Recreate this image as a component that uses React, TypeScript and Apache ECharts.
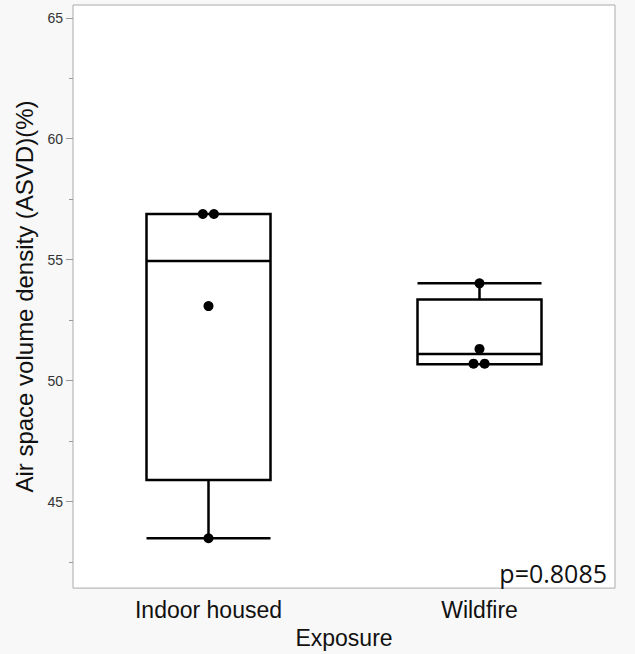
import React, { useEffect, useRef } from "react";
import * as echarts from "echarts";

const categories = ["Indoor housed", "Wildfire"];
// [min, Q1, median, Q3, max]
const boxStats = [
  [43.48, 45.89, 54.95, 56.89, 56.89],
  [50.68, 50.68, 51.1, 53.35, 54.02],
];
const indoorValues = [56.89, 56.89, 53.08, 43.48];
const indoorJitter = [-0.021, 0.02, 0, 0];
const wildfireValues = [54.02, 51.31, 50.7, 50.7];
const wildfireJitter = [0, 0, -0.022, 0.019];
const majorTicks = [45, 50, 55, 60, 65];
const minorTicks = [42.5, 47.5, 52.5, 57.5, 62.5];
const yMin = 41.42;
const yMax = 65.53;
const pValueText = "p=0.8085";

export default function App() {
  const ref = useRef<HTMLDivElement>(null);
  useEffect(() => {
    document.body.style.margin = "0";
    const chart = echarts.init(ref.current!, null, { renderer: "svg" });
    const points: number[][] = [];
    indoorValues.forEach((v, i) => points.push([0.5 + indoorJitter[i], v]));
    wildfireValues.forEach((v, i) => points.push([1.5 + wildfireJitter[i], v]));
    const font = '"Liberation Sans", Arial, Helvetica, sans-serif';
    chart.setOption({
      animation: false,
      backgroundColor: "#f8f8f8",
      grid: {
        left: 73,
        top: 5,
        right: 20,
        bottom: 63,
        show: true,
        backgroundColor: "#ffffff",
        borderColor: "#aaaaaa",
        borderWidth: 1,
      },
      xAxis: [
        {
          type: "category",
          data: categories,
          axisLine: { show: false },
          axisTick: { show: false },
          axisLabel: { fontSize: 23, color: "#111", fontFamily: font, margin: 10 },
          name: "Exposure",
          nameLocation: "middle",
          nameGap: 37,
          nameTextStyle: { fontSize: 23, color: "#111", fontFamily: font },
          splitLine: { show: false },
        },
        {
          type: "value",
          min: 0,
          max: 2,
          show: false,
        },
      ],
      yAxis: [
        {
          type: "value",
          position: "left",
          min: yMin,
          max: yMax,
          axisLine: { show: false },
          splitLine: { show: false },
          axisTick: {
            show: true,
            length: 7,
            lineStyle: { color: "#999" },
            customValues: majorTicks,
          },
          axisLabel: {
            fontSize: 14,
            color: "#333",
            fontFamily: font,
            margin: 10,
            customValues: majorTicks,
          },
          name: "Air space volume density (ASVD)(%)",
          nameLocation: "middle",
          nameGap: 31,
          nameTextStyle: { fontSize: 24, color: "#111", fontFamily: font },
        },
        {
          type: "value",
          position: "left",
          offset: 0,
          min: yMin,
          max: yMax,
          axisLine: { show: false },
          splitLine: { show: false },
          axisTick: {
            show: true,
            length: 4,
            lineStyle: { color: "#999" },
            customValues: minorTicks,
          },
          axisLabel: { show: false },
        },
      ],
      series: [
        {
          type: "boxplot",
          xAxisIndex: 0,
          yAxisIndex: 0,
          data: boxStats,
          boxWidth: [124, 124],
          itemStyle: { color: "#ffffff", borderColor: "#000", borderWidth: 2.5 },
          emphasis: { disabled: true },
        },
        {
          type: "scatter",
          xAxisIndex: 1,
          yAxisIndex: 0,
          data: points,
          symbolSize: 10,
          itemStyle: { color: "#000", opacity: 1 },
          z: 5,
        },
      ],
      graphic: [
        {
          type: "text",
          right: 28,
          top: 560,
          style: {
            text: pValueText,
            font: '25px "Open Sans", sans-serif',
            fill: "#111",
          },
        },
      ],
    });
    return () => chart.dispose();
  }, []);
  return <div ref={ref} style={{ width: 635, height: 654 }} />;
}
